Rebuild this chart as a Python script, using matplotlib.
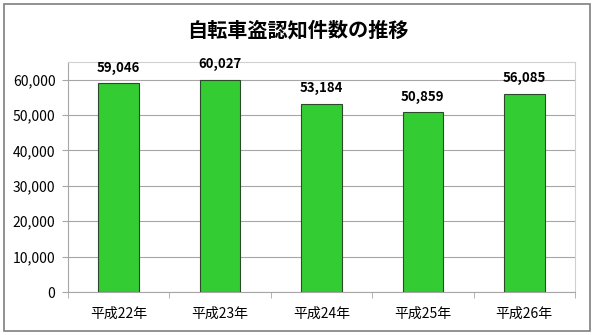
import matplotlib

matplotlib.use("Agg")
import matplotlib.pyplot as plt
from matplotlib.patches import Rectangle
from matplotlib.ticker import FuncFormatter, FixedLocator

plt.rcParams["font.family"] = ["Noto Sans CJK JP", "DejaVu Sans"]

TITLE = "自転車盗認知件数の推移"
years = ["平成22年", "平成23年", "平成24年", "平成25年", "平成26年"]
counts = [59046, 60027, 53184, 50859, 56085]


def main() -> None:
    fig = plt.figure(figsize=(5.95, 3.35), dpi=100)
    fig.patches.append(Rectangle((0.007, 0.012), 0.985, 0.975, transform=fig.transFigure,
                                 fill=False, edgecolor="#7f7f7f", linewidth=1.2))
    ax = fig.add_axes([68 / 595, 1 - 292 / 335, (575 - 68) / 595, (292 - 62) / 335])

    x = range(len(years))
    bars = ax.bar(x, counts, width=0.4, color="#33cc33", edgecolor="#2a4a2a",
                  linewidth=0.8, zorder=3)
    for b, v in zip(bars, counts):
        ax.annotate(f"{v:,}", (b.get_x() + b.get_width() / 2, v), xytext=(0, 6),
                    textcoords="offset points", ha="center", va="bottom",
                    fontsize=9.5, fontweight="bold")

    ax.set_xlim(-0.5, len(years) - 0.5)
    ax.set_ylim(0, 65000)
    ax.yaxis.set_major_locator(FixedLocator(range(0, 60001, 10000)))
    ax.yaxis.set_major_formatter(FuncFormatter(lambda v, p: f"{int(v):,}"))
    ax.grid(axis="y", color="#a6a6a6", linewidth=0.8, zorder=0)
    ax.set_xticks(list(x))
    ax.set_xticklabels(years, fontsize=10)
    ax.xaxis.set_minor_locator(FixedLocator([i - 0.5 for i in range(len(years) + 1)]))
    ax.tick_params(axis="x", which="major", length=0, pad=11)
    ax.tick_params(axis="x", which="minor", length=4, color="#a6a6a6")
    ax.tick_params(axis="y", length=4, color="#a6a6a6", labelsize=10, pad=5)
    for side in ["top", "right"]:
        ax.spines[side].set_color("#d0d0d0")
    for side in ["left", "bottom"]:
        ax.spines[side].set_color("#a6a6a6")

    fig.text(0.5, 1 - 30 / 335, TITLE, ha="center", va="center", fontsize=14.5,
             fontweight="bold")
    fig.savefig("out.png", dpi=100)


if __name__ == "__main__":
    main()
